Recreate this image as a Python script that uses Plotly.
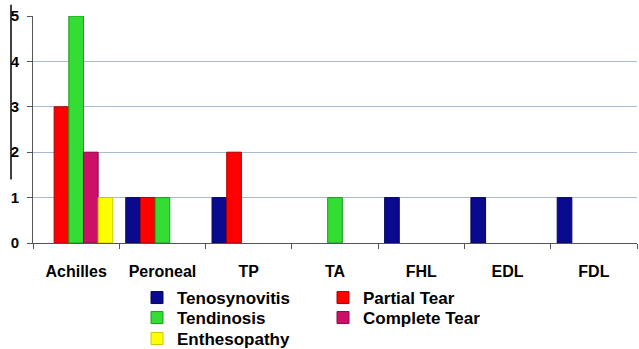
import plotly.graph_objects as go

categories = ["Achilles", "Peroneal", "TP", "TA", "FHL", "EDL", "FDL"]
tenosynovitis = [None, 1, 1, None, 1, 1, 1]
partial_tear = [3, 1, 2, None, None, None, None]
tendinosis = [5, 1, None, 1, None, None, None]
complete_tear = [2, None, None, None, None, None, None]
enthesopathy = [1, None, None, None, None, None, None]

series = [
    ("Tenosynovitis", tenosynovitis, "#0a0a8f", "#050560"),
    ("Partial Tear", partial_tear, "#ff0000", "#b00000"),
    ("Tendinosis", tendinosis, "#33dd33", "#1f9a1f"),
    ("Complete Tear", complete_tear, "#cc1068", "#8a0a46"),
    ("Enthesopathy", enthesopathy, "#ffff00", "#c8c800"),
]

# legend slot for each series: (column, row) in a 2-column block below the plot
legend_slots = [(0, 0), (1, 0), (0, 1), (1, 1), (0, 2)]

font_family = "Liberation Sans, Arial, sans-serif"
W, H = 639, 349
ML, MR, MT, MB = 33, 2, 16, 106
pw, ph = W - ML - MR, H - MT - MB

fig = go.Figure()
leg_font = dict(size=17, family=font_family, weight="bold", color="black")
col_text_px = [177, 363]
row_center_px = [298, 318, 339]
layout_legends = {}
for i, ((name, vals, col, edge), (c, r)) in enumerate(zip(series, legend_slots)):
    key = "legend" if i == 0 else f"legend{i + 1}"
    fig.add_trace(go.Bar(
        x=categories, y=vals, name=name,
        marker=dict(color=col, line=dict(color=edge, width=1)),
        legend=key,
    ))
    left_px = col_text_px[c] - 40
    layout_legends[key] = dict(
        x=(left_px - ML) / pw, y=(H - MB - row_center_px[r]) / ph,
        xanchor="left", yanchor="middle", orientation="v",
        font=leg_font, bgcolor="rgba(0,0,0,0)", borderwidth=0,
    )

fig.update_layout(
    width=W, height=H,
    margin=dict(l=ML, r=MR, t=MT, b=MB, autoexpand=False),
    paper_bgcolor="white", plot_bgcolor="white",
    barmode="group", bargap=0.15, bargroupgap=0,
    font=dict(family=font_family, size=14, color="black"),
    showlegend=True,
    **layout_legends,
)

fig.update_xaxes(
    type="category", showgrid=False, showline=True, linecolor="#555555", linewidth=1,
    ticks="outside", tickson="boundaries", ticklen=5, tickcolor="#555555",
    tickfont=dict(size=16, family=font_family, weight="bold"),
    ticklabelstandoff=14, automargin=False,
    range=[-0.5, 6.5],
)
fig.update_yaxes(
    range=[0, 5], dtick=1, showgrid=True, gridcolor="#a8bacb", gridwidth=1,
    showline=True, linecolor="#555555", linewidth=1,
    ticks="outside", ticklen=5, tickcolor="#555555",
    tickfont=dict(size=15, family=font_family, weight="bold"),
    ticklabelstandoff=5, automargin=False,
    zeroline=False,
)

fig.add_shape(type="line", xref="paper", yref="paper",
              x0=(11 - ML) / pw, x1=(11 - ML) / pw, y0=0.28, y1=1.05,
              line=dict(color="black", width=1.5))

fig.write_html("out.html", config={"displayModeBar": False},
               post_script="document.body.style.margin='0';document.body.style.overflow='hidden';")
